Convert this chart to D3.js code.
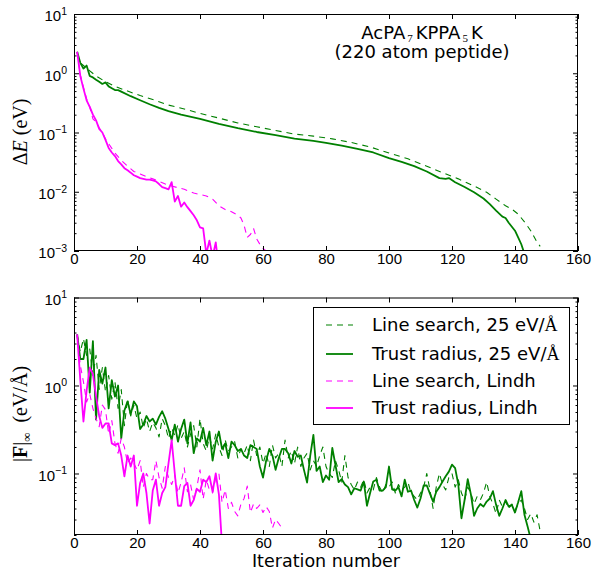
<!DOCTYPE html>
<html>
<head>
<meta charset="utf-8">
<script src="https://cdn.jsdelivr.net/npm/d3@7"></script>
<style>
  body { margin: 0; background: #fff; }
  svg { font-family: "DejaVu Sans", sans-serif; }
  text { fill: #000; }
</style>
</head>
<body>
<svg id="chart" width="595" height="571"></svg>
<script>

// ---- top panel: energy error vs iteration (sparse points on smooth curves)
var eTrustGreenIt = [1, 2, 3, 4, 5, 6, 7, 8, 9, 10, 11, 12, 13, 14, 15, 18, 21, 24, 27, 30, 34, 40, 46, 52, 58, 64, 70, 76, 80, 85, 90, 95, 100, 104, 108, 112, 116, 118, 119, 121, 124, 127, 130, 132, 134, 136, 137, 138, 140, 141, 142, 143]
var eTrustGreen = [2.3, 1.5, 1.2, 1.35, 0.9, 0.85, 0.78, 0.72, 0.66, 0.7, 0.6, 0.56, 0.52, 0.52, 0.49, 0.41, 0.35, 0.30, 0.26, 0.23, 0.20, 0.17, 0.14, 0.118, 0.102, 0.09, 0.079, 0.072, 0.067, 0.06, 0.053, 0.046, 0.037, 0.032, 0.027, 0.022, 0.017, 0.0165, 0.017, 0.0145, 0.012, 0.0098, 0.0077, 0.0062, 0.0048, 0.0038, 0.0036, 0.003, 0.0022, 0.0017, 0.0013, 0.0009]

var eLineGreenIt = [2, 3, 5, 7, 10, 13, 17, 21, 25, 30, 35, 40, 46, 52, 58, 64, 70, 76, 82, 88, 94, 100, 106, 112, 117, 122, 127, 131, 134, 137, 139, 141, 143, 145, 147, 148]
var eLineGreen = [1.5, 1.35, 1.1, 0.9, 0.72, 0.6, 0.5, 0.42, 0.36, 0.29, 0.25, 0.21, 0.175, 0.145, 0.125, 0.108, 0.094, 0.087, 0.078, 0.068, 0.057, 0.045, 0.036, 0.027, 0.021, 0.0165, 0.0125, 0.0098, 0.0075, 0.0058, 0.0051, 0.0042, 0.0031, 0.0022, 0.0014, 0.0012]

var eTrustLindhIt = [1, 2, 3, 4, 5, 6, 7, 8, 9, 10, 11, 12, 13, 14, 15, 16, 17, 18, 19, 20, 21, 22, 23, 24, 25, 26, 27, 28, 29, 30, 31, 32, 33, 34, 35, 36, 37, 38, 39, 40, 41, 42, 43, 44, 45, 46]
var eTrustLindh = [2.3, 0.9, 0.55, 0.35, 0.27, 0.2, 0.16, 0.115, 0.1, 0.075, 0.055, 0.046, 0.04, 0.033, 0.029, 0.025, 0.023, 0.021, 0.019, 0.018, 0.017, 0.0165, 0.016, 0.016, 0.0155, 0.015, 0.0135, 0.012, 0.0115, 0.011, 0.0145, 0.0068, 0.0085, 0.0056, 0.0066, 0.0055, 0.0047, 0.004, 0.0033, 0.0025, 0.0024, 0.0009, 0.0015, 0.0008, 0.0014, 0.0005]

var eLineLindhIt = [1, 2, 3, 4, 5, 6, 7, 8, 9, 10, 11, 12, 13, 14, 15, 17, 19, 21, 23, 25, 27, 29, 31, 33, 35, 38, 40, 42, 44, 46, 48, 50, 52, 53, 54, 55, 56, 57, 58, 59, 60, 61, 62]
var eLineLindh = [2.3, 0.95, 0.58, 0.37, 0.27, 0.17, 0.15, 0.12, 0.1, 0.078, 0.065, 0.054, 0.045, 0.039, 0.034, 0.027, 0.022, 0.02, 0.018, 0.0165, 0.015, 0.0135, 0.0125, 0.0117, 0.011, 0.0095, 0.009, 0.0085, 0.0075, 0.0058, 0.005, 0.0046, 0.004, 0.0036, 0.0027, 0.0017, 0.0019, 0.0024, 0.0016, 0.0013, 0.0011, 0.001, 0.00085]

// ---- bottom panel: max force, one value per iteration starting at 1
var fLineGreen = [3.8, 2.4, 3.4, 2.2, 2.6, 1.3, 2.2, 0.9, 1.6, 0.85, 1.3, 0.7, 1.1, 0.55, 0.9, 0.35, 0.7, 0.45, 0.6, 0.42,
  0.5, 0.33, 0.42, 0.3, 0.38, 0.33, 0.26, 0.42, 0.35, 0.25, 0.33, 0.27, 0.36, 0.25, 0.3, 0.2, 0.28, 0.35, 0.2, 0.42,
  0.22, 0.18, 0.26, 0.19, 0.28, 0.2, 0.16, 0.24, 0.18, 0.2, 0.23, 0.15, 0.19, 0.17, 0.21, 0.14, 0.24, 0.16, 0.2, 0.13,
  0.17, 0.12, 0.21, 0.15, 0.17, 0.12, 0.24, 0.15, 0.18, 0.13, 0.2, 0.12, 0.15, 0.17, 0.11, 0.14, 0.12, 0.16, 0.2, 0.12,
  0.1, 0.09, 0.14, 0.11, 0.08, 0.16, 0.09, 0.075, 0.065, 0.08, 0.07, 0.085, 0.06, 0.07, 0.065, 0.09, 0.07, 0.06, 0.075, 0.07,
  0.08, 0.06, 0.075, 0.065, 0.07, 0.08, 0.06, 0.055, 0.05, 0.06, 0.07, 0.1, 0.065, 0.04, 0.07, 0.1, 0.075, 0.065, 0.09, 0.1,
  0.07, 0.085, 0.06, 0.05, 0.07, 0.06, 0.045, 0.055, 0.05, 0.06, 0.08, 0.055, 0.045, 0.035, 0.05, 0.042, 0.048, 0.04, 0.045, 0.038,
  0.045, 0.05, 0.04, 0.03, 0.035, 0.028, 0.034, 0.022]

var fTrustGreen = [3.8, 2.0, 2.0, 3.3, 0.83, 3.2, 0.41, 1.5, 1.05, 1.6, 0.55, 1.15, 0.75, 1.0, 0.25, 0.52, 0.66, 0.47, 0.66, 0.58,
  0.32, 0.36, 0.45, 0.39, 0.42, 0.36, 0.44, 0.51, 0.42, 0.32, 0.24, 0.36, 0.23, 0.32, 0.41, 0.22, 0.38, 0.17, 0.25, 0.23,
  0.33, 0.21, 0.30, 0.14, 0.23, 0.30, 0.19, 0.22, 0.15, 0.23, 0.21, 0.18, 0.19, 0.16, 0.15, 0.21, 0.20, 0.19, 0.12, 0.09,
  0.14, 0.19, 0.16, 0.11, 0.15, 0.19, 0.19, 0.17, 0.13, 0.18, 0.155, 0.16, 0.11, 0.079, 0.16, 0.275, 0.107, 0.12, 0.08, 0.095,
  0.085, 0.195, 0.125, 0.08, 0.086, 0.075, 0.07, 0.058, 0.068, 0.066, 0.064, 0.081, 0.043, 0.06, 0.081, 0.085, 0.064, 0.064, 0.07, 0.12,
  0.066, 0.064, 0.07, 0.055, 0.085, 0.062, 0.064, 0.05, 0.041, 0.052, 0.073, 0.073, 0.059, 0.048, 0.062, 0.07, 0.081, 0.093, 0.105, 0.126,
  0.115, 0.075, 0.031, 0.05, 0.086, 0.058, 0.033, 0.04, 0.045, 0.042, 0.048, 0.052, 0.063, 0.044, 0.033, 0.04, 0.05, 0.042, 0.044, 0.036,
  0.047, 0.063, 0.034, 0.025, 0.018]

var fLineLindh = [3.8, 1.7, 1.1, 0.65, 0.8, 0.55, 0.42, 0.34, 0.6, 0.53, 0.28, 0.4, 0.22, 0.17, 0.25, 0.2, 0.13, 0.15, 0.13, 0.11,
  0.14, 0.07, 0.1, 0.085, 0.085, 0.14, 0.09, 0.068, 0.12, 0.09, 0.075, 0.095, 0.06, 0.079, 0.116, 0.062, 0.075, 0.05, 0.07, 0.11,
  0.051, 0.085, 0.065, 0.06, 0.09, 0.1, 0.047, 0.065, 0.04, 0.047, 0.037, 0.033, 0.045, 0.052, 0.072, 0.036, 0.045, 0.04, 0.044, 0.036,
  0.042, 0.037, 0.024, 0.03, 0.027, 0.024]

var fTrustLindh = [3.8, 1.16, 0.39, 0.87, 1.6, 1.35, 0.75, 0.45, 0.33, 0.37, 0.37, 0.22, 0.21, 0.22, 0.16, 0.093, 0.16, 0.12, 0.16, 0.043,
  0.078, 0.1, 0.06, 0.027, 0.064, 0.085, 0.043, 0.06, 0.07, 0.13, 0.24, 0.1, 0.043, 0.043, 0.072, 0.078, 0.043, 0.05, 0.067, 0.062,
  0.085, 0.08, 0.093, 0.062, 0.1, 0.058, 0.015]

var legendLabels = ["Line search, 25 eV/", "Trust radius, 25 eV/", "Line search, Lindh", "Trust radius, Lindh"]
var xTicks = [0, 20, 40, 60, 80, 100, 120, 140, 160]

var green = "#008000"
var magenta = "#ff00ff"
var serif = "'Liberation Serif', 'DejaVu Serif', serif"

var svg = d3.select("#chart")

var x = d3.scaleLinear().domain([0, 160]).range([74, 578])
var yTop = d3.scaleLog().domain([1e-3, 10]).range([251, 14])
var yBot = d3.scaleLog().domain([0.02, 10]).range([535, 297.5])

var sup = { "-": "\u2212", "0": "0", "1": "1", "2": "2", "3": "3" }

function minorTicks(y) {
    var d = y.domain(), out = []
    for (var e = -4; e <= 1; e++) {
        for (var m = 2; m <= 9; m++) {
            var v = m * Math.pow(10, e)
            if (v >= d[0] * 0.999 && v <= d[1] * 1.001) out.push(v)
        }
    }
    return out
}

function majorTicks(y) {
    var d = y.domain(), out = []
    for (var e = -4; e <= 1; e++) {
        var v = Math.pow(10, e)
        if (v >= d[0] * 0.999 && v <= d[1] * 1.001) out.push(v)
    }
    return out
}

function drawPanel(y, name) {
    var g = svg.append("g").attr("class", name)
    var r = y.range()
    var x0 = x.range()[0], x1 = x.range()[1]

    g.append("clipPath").attr("id", "clip-" + name)
        .append("rect")
        .attr("x", x0).attr("y", r[1])
        .attr("width", x1 - x0).attr("height", r[0] - r[1])

    var plot = g.append("g").attr("clip-path", "url(#clip-" + name + ")")

    // bottom / top x axes with inward ticks
    var xb = g.append("g").attr("transform", "translate(0," + r[0] + ")")
        .call(d3.axisBottom(x).tickValues(xTicks).tickSize(-5).tickPadding(2).tickFormat(d3.format("d")))
    g.append("g").attr("transform", "translate(0," + r[1] + ")")
        .call(d3.axisTop(x).tickValues(xTicks).tickSize(-5).tickFormat(""))

    // left / right y axes, major + minor
    var yl = g.append("g").attr("transform", "translate(" + x0 + ",0)")
        .call(d3.axisLeft(y).tickValues(majorTicks(y)).tickSize(-5).tickPadding(6).tickFormat(""))
    g.append("g").attr("transform", "translate(" + x0 + ",0)")
        .call(d3.axisLeft(y).tickValues(minorTicks(y)).tickSize(-2.5).tickFormat(""))
    g.append("g").attr("transform", "translate(" + x1 + ",0)")
        .call(d3.axisRight(y).tickValues(majorTicks(y)).tickSize(-5).tickFormat(""))
    g.append("g").attr("transform", "translate(" + x1 + ",0)")
        .call(d3.axisRight(y).tickValues(minorTicks(y)).tickSize(-2.5).tickFormat(""))

    g.selectAll(".domain").remove()
    g.selectAll(".tick line").attr("stroke", "#000").attr("stroke-width", 1)
    xb.selectAll("text").attr("font-size", "15px").attr("font-family", null)

    yl.selectAll(".tick").each(function(d) {
        var e = Math.round(Math.log10(d))
        var t = d3.select(this).select("text")
            .attr("font-size", "15px").attr("font-family", null)
            .attr("x", -7).attr("dy", "0.45em")
        t.text("10")
        t.append("tspan").attr("dy", "-0.62em").attr("font-size", "10.5px")
            .text(String(e).split("").map(function(c) { return sup[c] }).join(""))
    })

    // frame
    g.append("rect")
        .attr("x", x0 + 0.5).attr("y", r[1] + 0.5)
        .attr("width", x1 - x0 - 1).attr("height", r[0] - r[1] - 1)
        .attr("fill", "none").attr("stroke", "#000").attr("stroke-width", 1)

    return plot
}

function addLine(plot, y, its, vals, color, dashed) {
    var pts = its.map(function(it, i) { return [it, vals[i]] })
    plot.append("path")
        .datum(pts)
        .attr("fill", "none")
        .attr("stroke", color)
        .attr("stroke-width", dashed ? 1.1 : 1.8)
        .attr("stroke-dasharray", dashed ? "6,5" : null)
        .attr("stroke-linejoin", "round")
        .attr("d", d3.line().x(function(d) { return x(d[0]) }).y(function(d) { return y(d[1]) }))
}

function iters(vals) {
    return vals.map(function(v, i) { return i + 1 })
}

var topPlot = drawPanel(yTop, "top")
addLine(topPlot, yTop, eLineGreenIt, eLineGreen, green, true)
addLine(topPlot, yTop, eTrustGreenIt, eTrustGreen, green, false)
addLine(topPlot, yTop, eLineLindhIt, eLineLindh, magenta, true)
addLine(topPlot, yTop, eTrustLindhIt, eTrustLindh, magenta, false)

var botPlot = drawPanel(yBot, "bot")
addLine(botPlot, yBot, iters(fLineGreen), fLineGreen, green, true)
addLine(botPlot, yBot, iters(fTrustGreen), fTrustGreen, green, false)
addLine(botPlot, yBot, iters(fLineLindh), fLineLindh, magenta, true)
addLine(botPlot, yBot, iters(fTrustLindh), fTrustLindh, magenta, false)

// title inside top panel
var title = svg.append("text")
    .attr("x", 422).attr("y", 39)
    .attr("text-anchor", "middle")
    .attr("font-size", "18px")
title.append("tspan").text("AcPA")
title.append("tspan").attr("dx", 2).attr("dy", 3).attr("font-size", "11px").style("font-family", serif).text("7")
title.append("tspan").attr("dx", 3).attr("dy", -3).text("KPPA")
title.append("tspan").attr("dx", 2).attr("dy", 3).attr("font-size", "11px").style("font-family", serif).text("5")
title.append("tspan").attr("dx", 3).attr("dy", -3).text("K")

svg.append("text")
    .attr("x", 422).attr("y", 58)
    .attr("text-anchor", "middle")
    .attr("font-size", "18px")
    .text("(220 atom peptide)")

// axis labels
var yl1 = svg.append("text")
    .attr("transform", "translate(27,132) rotate(-90)")
    .attr("text-anchor", "middle")
    .attr("font-size", "20px")
    .style("font-family", serif)
yl1.append("tspan").text("\u0394")
yl1.append("tspan").attr("font-style", "italic").text("E")
yl1.append("tspan").text(" (eV)")

var yl2 = svg.append("text")
    .attr("transform", "translate(27,414) rotate(-90)")
    .attr("text-anchor", "middle")
    .attr("font-size", "20px")
    .style("font-family", serif)
yl2.append("tspan").text("|")
yl2.append("tspan").attr("font-weight", "bold").text("F")
yl2.append("tspan").text("|")
yl2.append("tspan").attr("dy", 4).attr("font-size", "13px").text("\u221E")
yl2.append("tspan").attr("dy", -4).text("\u2002(eV/\u00C5)")

svg.append("text")
    .attr("x", 326).attr("y", 567)
    .attr("text-anchor", "middle")
    .attr("font-size", "17.5px")
    .text("Iteration number")

// legend
var legend = svg.append("g")
legend.append("rect")
    .attr("x", 313.5).attr("y", 307.5)
    .attr("width", 256).attr("height", 117)
    .attr("fill", "#fff").attr("stroke", "#000").attr("stroke-width", 1)

var legColors = [green, green, magenta, magenta]
var legDashed = [true, false, true, false]
var legY = [325, 354, 381, 408]

legendLabels.forEach(function(lab, i) {
    legend.append("line")
        .attr("x1", 326).attr("x2", 353)
        .attr("y1", legY[i]).attr("y2", legY[i])
        .attr("stroke", legColors[i])
        .attr("stroke-width", legDashed[i] ? 1.1 : 1.8)
        .attr("stroke-dasharray", legDashed[i] ? "6,5" : null)
    var t = legend.append("text")
        .attr("x", 372).attr("y", legY[i] + 6)
        .attr("font-size", "18px")
        .text(lab)
    if (i < 2) {
        t.append("tspan").style("font-family", serif).text("\u00C5")
    }
})

</script>
</body>
</html>
